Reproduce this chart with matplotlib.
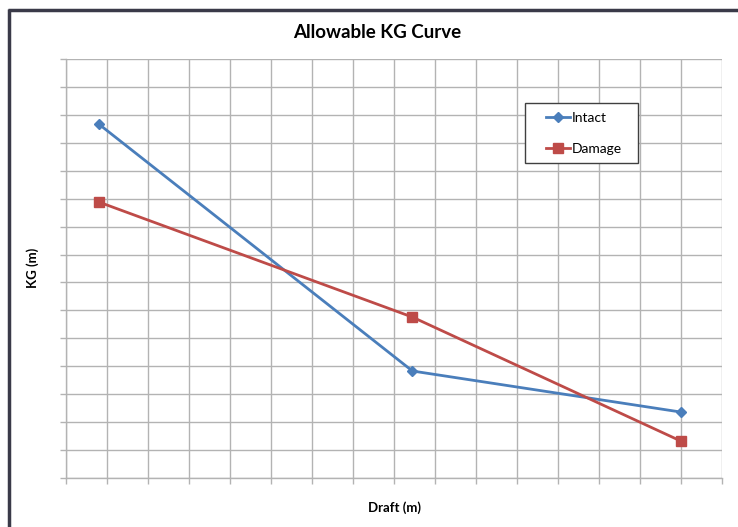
import matplotlib
matplotlib.use("Agg")
import matplotlib.pyplot as plt
from matplotlib.lines import Line2D
from matplotlib.patches import Rectangle

# Data (arbitrary grid units; the reference shows no tick labels)
draft = [0.8, 8.45, 15.0]
kg_intact = [12.67, 3.83, 2.36]
kg_damage = [9.88, 5.76, 1.32]
x_ticks = list(range(0, 17))
y_ticks = list(range(0, 16))

W, H = 738, 527
fig = plt.figure(figsize=(W / 100, H / 100), dpi=100)
plt.rcParams['font.family'] = ['Lato', 'DejaVu Sans']

def fx(px):
    return px / W

def fy(py):
    return 1 - py / H

ax = fig.add_axes([fx(66), fy(478), fx(722) - fx(66), fy(59) - fy(478)])
ax.set_xlim(0, 16)
ax.set_ylim(0, 15)
ax.set_xticks(x_ticks)
ax.set_yticks(y_ticks)
ax.set_xticklabels([])
ax.set_yticklabels([])
grid_c = '#b3b3b3'
ax.grid(True, color=grid_c, linewidth=1.0)
ax.set_axisbelow(True)
for s in ['top', 'right']:
    ax.spines[s].set_visible(False)
for s in ['left', 'bottom']:
    ax.spines[s].set_color(grid_c)
    ax.spines[s].set_linewidth(1.0)
ax.tick_params(axis='both', direction='out', length=4, color=grid_c, width=1)

ax.plot(draft, kg_intact, color='#4a7ebb', linewidth=2, marker='D', markersize=5.5,
        label='Intact', clip_on=False, zorder=3)
ax.plot(draft, kg_damage, color='#be4b48', linewidth=2, marker='s', markersize=7,
        label='Damage', clip_on=False, zorder=3)

# legend frame drawn separately so its padding can match the reference
ax.add_patch(Rectangle((fx(525), fy(163)), fx(638) - fx(525), fy(103) - fy(163),
                       transform=fig.transFigure, facecolor='white',
                       edgecolor='#404040', linewidth=1.0, zorder=4,
                       clip_on=False))
leg = ax.legend(loc='upper left', bbox_to_anchor=(fx(546), fy(112)),
                bbox_transform=fig.transFigure, frameon=False,
                fontsize=10, handlelength=1.75,
                handletextpad=0.1, labelspacing=1.35, borderpad=0,
                borderaxespad=0)
leg.set_zorder(6)

fig.text(fx(377), fy(33), 'Allowable KG Curve', ha='center', va='center',
         fontsize=13.5, fontweight='bold', color='black')
fig.text(fx(394), fy(508), 'Draft (m)', ha='center', va='center',
         fontsize=9.5, fontweight='bold', color='black')
fig.text(fx(33), fy(268), 'KG (m)', ha='center', va='center', rotation=90,
         fontsize=9.5, fontweight='bold', color='black')

# chart-area frame (extends beyond the image on the right and bottom)
frame_c = '#3a3a48'
fig.add_artist(Line2D([fx(8), 1.0], [fy(10), fy(10)], transform=fig.transFigure,
                      color=frame_c, linewidth=2.5, solid_capstyle='butt'))
fig.add_artist(Line2D([fx(9), fx(9)], [fy(8.8), 0.0], transform=fig.transFigure,
                      color=frame_c, linewidth=2.5, solid_capstyle='butt'))

fig.savefig('out.png', dpi=100)
